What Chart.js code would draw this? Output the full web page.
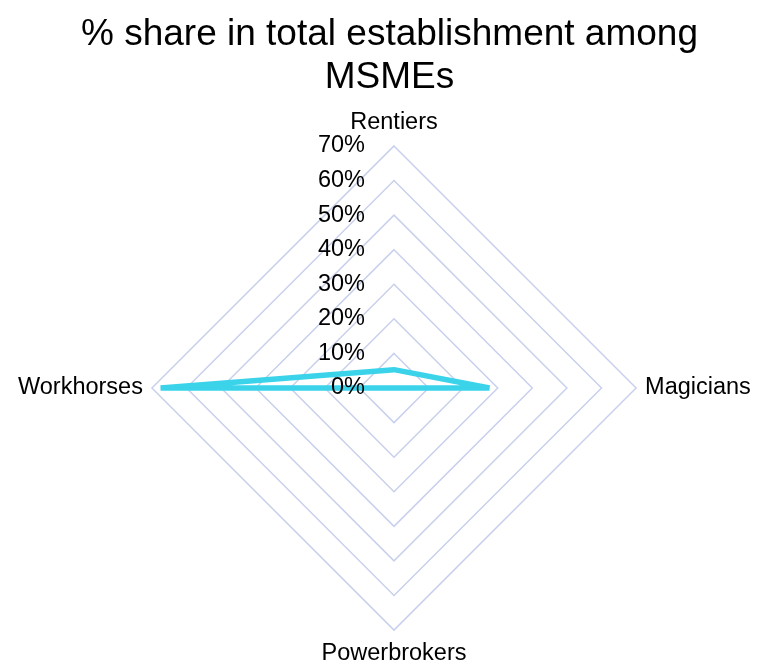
<!DOCTYPE html>
<html lang="en">
<head>
    <meta charset="UTF-8">
    <title>% share in total establishment among MSMEs</title>
    <script src="https://cdn.jsdelivr.net/npm/chart.js"></script>
    <style>
        body { margin: 0; background: #ffffff; }
        #wrap { width: 761px; height: 672px; }
    </style>
</head>
<body>
    <div id="wrap"><canvas id="radar"></canvas></div>

    <script>
        // Dados
        const categories = ["Rentiers", "Magicians", "Powerbrokers", "Workhorses"];
        const shareValues = [5.3, 27.6, 0, 67.5];
        const tickValues = [0, 10, 20, 30, 40, 50, 60, 70];
        const tickLabels = ["0%", "10%", "20%", "30%", "40%", "50%", "60%", "70%"];

        // Rótulos do eixo desenhados à esquerda do eixo vertical
        const tickLabelPlugin = {
            id: "tickLabelPlugin",
            afterDatasetsDraw(chart) {
                const s = chart.scales.r;
                const ctx = chart.ctx;
                ctx.save();
                ctx.font = "23.5px 'Liberation Sans', Arial, sans-serif";
                ctx.fillStyle = "#000000";
                ctx.textAlign = "right";
                ctx.textBaseline = "middle";
                tickValues.forEach((v, i) => {
                    const y = s.yCenter - s.getDistanceFromCenterForValue(v);
                    ctx.fillText(tickLabels[i], s.xCenter - 29, y);
                });
                ctx.restore();
            }
        };

        const ctx = document.getElementById("radar").getContext("2d");
        new Chart(ctx, {
            type: "radar",
            data: {
                labels: categories,
                datasets: [{
                    label: "% share",
                    data: shareValues,
                    borderColor: "#3bd3ea",
                    borderWidth: 5.5,
                    pointRadius: 0,
                    fill: false,
                    tension: 0
                }]
            },
            options: {
                responsive: true,
                maintainAspectRatio: false,
                animation: false,
                layout: { padding: { top: 0, bottom: 0, left: 9, right: -9 } },
                plugins: {
                    legend: { display: false },
                    tooltip: { enabled: false },
                    title: {
                        display: true,
                        text: ["% share in total establishment among", "MSMEs"],
                        color: "#000000",
                        font: { family: "'Liberation Sans', Arial, sans-serif", size: 37, weight: "normal", lineHeight: 1.15 },
                        padding: { top: 14, bottom: 5 }
                    }
                },
                scales: {
                    r: {
                        min: 0,
                        max: 70,
                        ticks: { stepSize: 10, display: false },
                        angleLines: { display: false },
                        grid: { color: "#c9d0ec", lineWidth: 1.5 },
                        pointLabels: {
                            color: "#000000",
                            padding: 9,
                            font: { family: "'Liberation Sans', Arial, sans-serif", size: 23.5 }
                        }
                    }
                }
            },
            plugins: [tickLabelPlugin]
        });
    </script>
</body>
</html>
